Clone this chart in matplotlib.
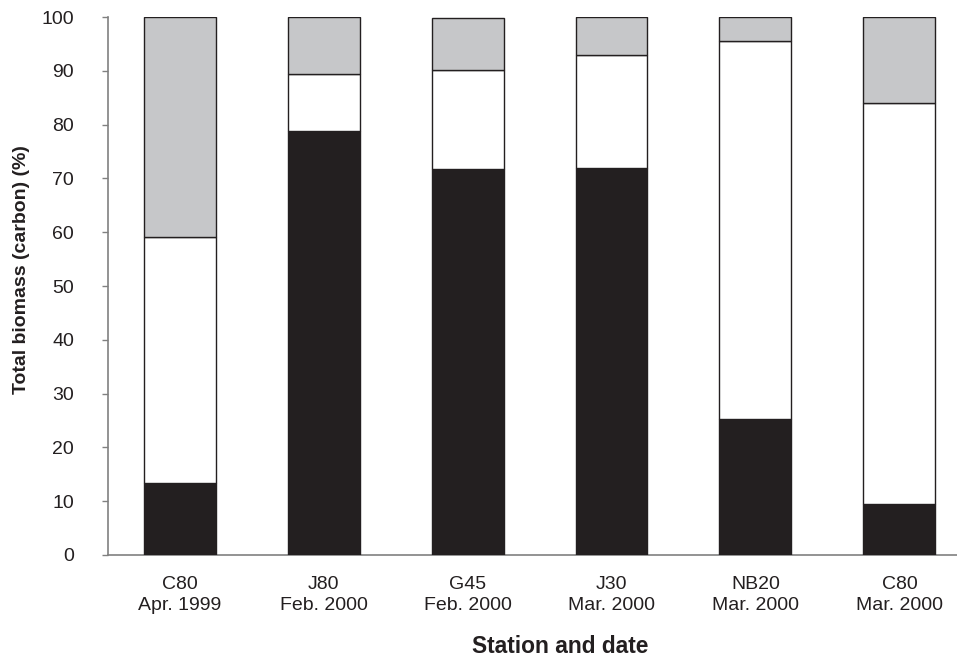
import matplotlib
matplotlib.use("Agg")
import matplotlib.pyplot as plt
import numpy as np

plt.rcParams['font.family'] = ['Liberation Sans', 'DejaVu Sans']

stations = ["C80", "J80", "G45", "J30", "NB20", "C80"]
dates = ["Apr. 1999", "Feb. 2000", "Feb. 2000", "Mar. 2000", "Mar. 2000", "Mar. 2000"]
black_part = [13.4, 78.8, 71.7, 71.9, 25.2, 9.4]
white_part = [45.7, 10.7, 18.5, 21.1, 70.3, 74.7]
gray_part = [40.9, 10.5, 9.6, 7.0, 4.5, 15.9]

labels = [f"{s}\n{d}" for s, d in zip(stations, dates)]
x = np.arange(len(stations))
black = np.array(black_part)
white = np.array(white_part)
gray = np.array(gray_part)

fig = plt.figure(figsize=(9.57, 6.56), dpi=100)
ax = fig.add_axes([0.1125, 0.154, 0.8875, 0.820])

edge = '#231f20'
ax.bar(x, black, width=0.5, color='#231f20', edgecolor=edge, linewidth=1.0, zorder=3)
ax.bar(x, white, width=0.5, bottom=black, color='white', edgecolor=edge, linewidth=1.0, zorder=3)
ax.bar(x, gray, width=0.5, bottom=black + white, color='#c6c7c9', edgecolor=edge, linewidth=1.0, zorder=3)

ax.set_xlim(-0.5, 5.40)
ax.set_ylim(0, 100)
ax.set_yticks(np.arange(0, 101, 10))
ax.set_xticks(x)
ax.set_xticklabels(labels, fontsize=14, color='#231f20', linespacing=1.3)
ax.tick_params(axis='y', labelsize=14, length=4.3, width=1.0, color='#808080', pad=20, labelcolor='#231f20')
ax.tick_params(axis='x', length=0, pad=15)

for s in ['top', 'right']:
    ax.spines[s].set_visible(False)
for s in ['left', 'bottom']:
    ax.spines[s].set_color('#808080')
    ax.spines[s].set_linewidth(1.2)

ax.set_ylabel("Total biomass (carbon) (%)", fontsize=14, fontweight='bold', color='#231f20', va='center')
ax.yaxis.set_label_coords(-0.101, 0.53)
ax.set_xlabel("Station and date", fontsize=16.4, fontweight='bold', color='#231f20', va='baseline')
ax.xaxis.set_label_coords(0.533, -0.182)

fig.savefig("out.png", dpi=100)
